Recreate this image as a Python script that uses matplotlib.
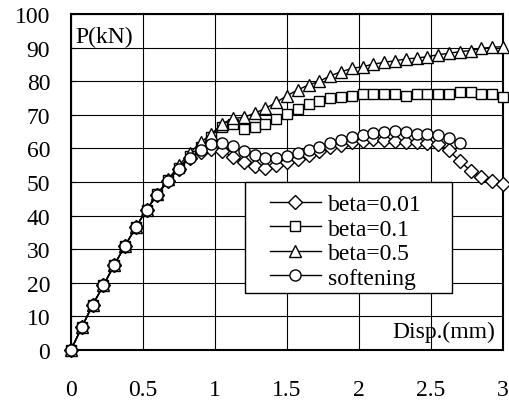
import matplotlib
matplotlib.use("Agg")
import matplotlib.pyplot as plt
from matplotlib.patches import Rectangle

plt.rcParams["font.family"] = ["Liberation Serif", "DejaVu Serif"]

# displacement (mm), one point every 0.075 mm
disp = [0.0, 0.075, 0.15, 0.225, 0.3, 0.375, 0.45, 0.525, 0.6, 0.675,
        0.75, 0.825, 0.9, 0.975, 1.05, 1.125, 1.2, 1.275, 1.35, 1.425,
        1.5, 1.575, 1.65, 1.725, 1.8, 1.875, 1.95, 2.025, 2.1, 2.175,
        2.25, 2.325, 2.4, 2.475, 2.55, 2.625, 2.7, 2.775, 2.85, 2.925, 3.0]

# load P (kN)
p_beta001 = [0, 6.8, 13.4, 19.2, 25.3, 31.0, 36.5, 41.8, 46.2, 50.4,
             54.0, 57.2, 59.0, 59.8, 59.2, 57.5, 56.1, 54.7, 54.3, 55.0,
             56.0, 56.8, 58.0, 59.3, 60.3, 61.0, 61.8, 62.3, 62.8, 62.6,
             62.3, 62.0, 61.8, 61.6, 61.3, 59.4, 56.2, 53.4, 51.4, 50.3, 49.5]
p_beta01 = [0, 6.8, 13.4, 19.2, 25.3, 31.0, 36.5, 41.8, 46.3, 50.6,
            54.3, 57.8, 60.5, 63.5, 66.3, 67.2, 65.8, 66.3, 67.3, 68.8,
            70.3, 71.8, 73.1, 74.2, 74.9, 75.4, 75.7, 76.2, 76.2, 76.2,
            76.2, 75.6, 76.2, 76.2, 76.2, 76.2, 76.7, 76.7, 76.2, 76.2, 75.2]
p_beta05 = [0, 6.8, 13.4, 19.2, 25.3, 31.0, 36.5, 41.8, 46.4, 50.8,
            55.0, 58.6, 61.8, 64.3, 67.3, 69.0, 69.2, 70.5, 71.9, 73.7,
            75.7, 77.4, 78.9, 80.0, 81.6, 82.8, 83.8, 84.3, 85.1, 85.6,
            86.1, 86.6, 86.9, 87.3, 87.9, 88.3, 88.8, 89.1, 89.8, 90.1, 90.3]
p_soft = [0, 6.8, 13.4, 19.2, 25.3, 31.0, 36.5, 41.8, 46.2, 50.4,
          54.0, 57.2, 59.4, 61.2, 61.6, 60.6, 59.1, 58.1, 57.2, 57.1,
          57.7, 58.5, 59.6, 60.5, 61.5, 62.5, 63.3, 64.0, 64.5, 64.9,
          65.2, 64.9, 64.4, 64.2, 64.1, 63.2, 61.7]

labels = ["beta=0.01", "beta=0.1", "beta=0.5", "softening"]

fig = plt.figure(figsize=(5.09, 4.06), dpi=100)
ax = fig.add_axes([0.1395, 0.1355, 0.8485, 0.8275])

style = dict(color="black", lw=1.0, mfc="white", mec="black", mew=1.0, clip_on=False)
ax.plot(disp, p_beta001, marker="D", ms=7, label=labels[0], **style)
ax.plot(disp, p_beta01, marker="s", ms=7.5, label=labels[1], **style)
ax.plot(disp, p_beta05, marker="^", ms=9, label=labels[2], **style)
ax.plot(disp[:len(p_soft)], p_soft, marker="o", ms=8, label=labels[3], **style)

ax.set_xlim(0, 3)
ax.set_ylim(0, 100)
ax.set_xticks([0, 0.5, 1, 1.5, 2, 2.5, 3])
ax.set_xticklabels(["0", "0.5", "1", "1.5", "2", "2.5", "3"])
ax.set_yticks(range(0, 101, 10))
ax.grid(True, color="black", lw=0.8)
ax.set_axisbelow(True)
for sp in ax.spines.values():
    sp.set_linewidth(1.5)
    sp.set_zorder(1.5)
ax.tick_params(axis="x", length=0, pad=21, labelsize=17)
ax.tick_params(axis="y", direction="in", length=3, pad=15, labelsize=17)

ax.text(0.03, 96.5, "P(kN)", fontsize=17, va="top", ha="left")
ax.text(2.95, 4.0, "Disp.(mm)", fontsize=17, va="baseline", ha="right")

# legend box
ax.add_patch(Rectangle((0.403, 0.17), 0.479, 0.33, transform=ax.transAxes,
                       facecolor="white", edgecolor="black", lw=1.0, zorder=4))
leg = ax.legend(loc="upper left", bbox_to_anchor=(0.461, 0.466), fontsize=17,
                frameon=False, handlelength=2.15, handletextpad=0.3,
                labelspacing=0.13, borderpad=0, borderaxespad=0)
leg.set_zorder(5)

fig.savefig("out.png", dpi=100)
